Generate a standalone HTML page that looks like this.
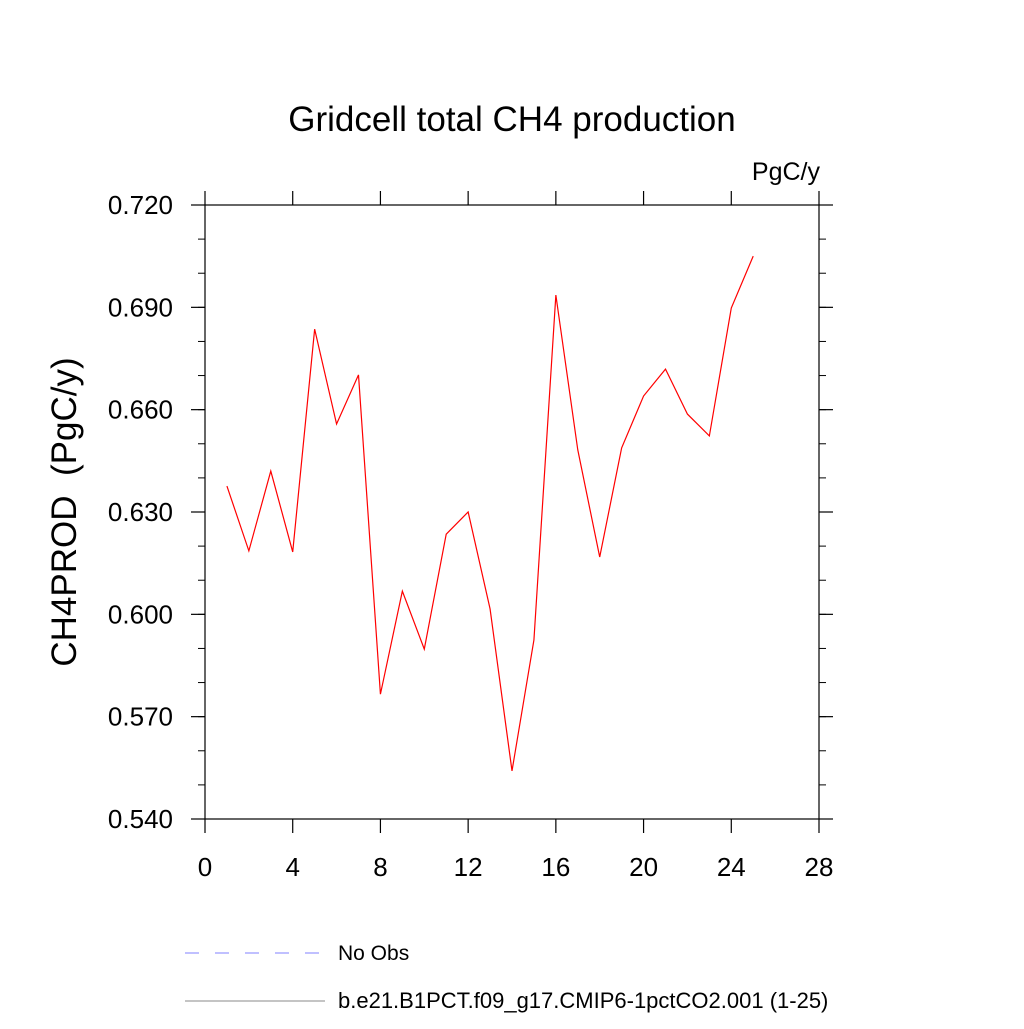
<!DOCTYPE html>
<html><head><meta charset="utf-8"><style>
body{margin:0;background:#fff}
svg text{font-family:"Liberation Sans",sans-serif;fill:#000}
</style></head><body>
<svg id="chart" width="1024" height="1024" viewBox="0 0 1024 1024">
<rect width="1024" height="1024" fill="#fff"/>
<text x="512" y="131" font-size="35" text-anchor="middle">Gridcell total CH4 production</text>
<text x="820" y="180" font-size="25" text-anchor="end">PgC/y</text>
<text transform="translate(76,512) rotate(-90)" font-size="35" text-anchor="middle">CH4PROD&#160;&#160;(PgC/y)</text>
<g id="axes"></g>
<polyline id="series" fill="none" stroke="#ff0000" stroke-width="1.2"/>
<g>
<line x1="185" y1="953" x2="325" y2="953" stroke="#8080ff" stroke-width="1" stroke-dasharray="14,16"/>
<text x="338" y="960" font-size="21">No Obs</text>
<line x1="185" y1="1001" x2="325" y2="1001" stroke="#888" stroke-width="1"/>
<text x="338" y="1008" font-size="22">b.e21.B1PCT.f09_g17.CMIP6-1pctCO2.001 (1-25)</text>
</g>
</svg>
<script>
const years=[1,2,3,4,5,6,7,8,9,10,11,12,13,14,15,16,17,18,19,20,21,22,23,24,25];
const values=[0.6376,0.6186,0.642,0.6183,0.6836,0.6558,0.6702,0.5766,0.6068,0.5898,0.6235,0.630,0.6016,0.5541,0.5925,0.6936,0.6482,0.6168,0.6488,0.664,0.6719,0.6587,0.6523,0.6898,0.705];
const xTicks=[0,4,8,12,16,20,24,28];
const yTicks=["0.540","0.570","0.600","0.630","0.660","0.690","0.720"];
const L=205,R=819,T=205,B=819,xmin=0,xmax=28,ymin=0.54,ymax=0.72;
const X=v=>L+(v-xmin)/(xmax-xmin)*(R-L);
const Y=v=>B-(v-ymin)/(ymax-ymin)*(B-T);
const NS="http://www.w3.org/2000/svg";
const g=document.getElementById('axes');
function ln(x1,y1,x2,y2,name,w){const e=document.createElementNS(NS,'line');
e.setAttribute('x1',x1);e.setAttribute('y1',y1);e.setAttribute('x2',x2);e.setAttribute('y2',y2);
e.setAttribute('stroke','#000');e.setAttribute('stroke-width',w||1.2);


g.appendChild(e);}
function tx(x,y,s,anchor,name){const e=document.createElementNS(NS,'text');
e.setAttribute('x',x);e.setAttribute('y',y);e.setAttribute('font-size','26');e.setAttribute('text-anchor',anchor);e.textContent=s;


g.appendChild(e);}
const fr=document.createElementNS(NS,'rect');
fr.setAttribute('x',L);fr.setAttribute('y',T);fr.setAttribute('width',R-L);fr.setAttribute('height',B-T);
fr.setAttribute('fill','none');fr.setAttribute('stroke','#000');fr.setAttribute('stroke-width','1.2');


g.appendChild(fr);
xTicks.forEach(t=>{const x=X(t);ln(x,B,x,B+14,'x-tick');ln(x,T,x,T-14,'x-tick-top');tx(x,B+57,String(t),'middle','x-tick-label');});
yTicks.forEach(t=>{const y=Y(+t);ln(L-14,y,L,y,'y-tick');ln(R,y,R+14,y,'y-tick-right');tx(L-32,y+9,t,'end','y-tick-label');});
for(let v=ymin;v<ymax-1e-9;v+=0.01){const y=Y(v);ln(L-7,y,L,y,'y-minor-tick',1);ln(R,y,R+7,y,'y-minor-tick-right',1);}
document.getElementById('series').setAttribute('points',years.map((d,i)=>X(d)+','+Y(values[i])).join(' '));
</script>
</body></html>
